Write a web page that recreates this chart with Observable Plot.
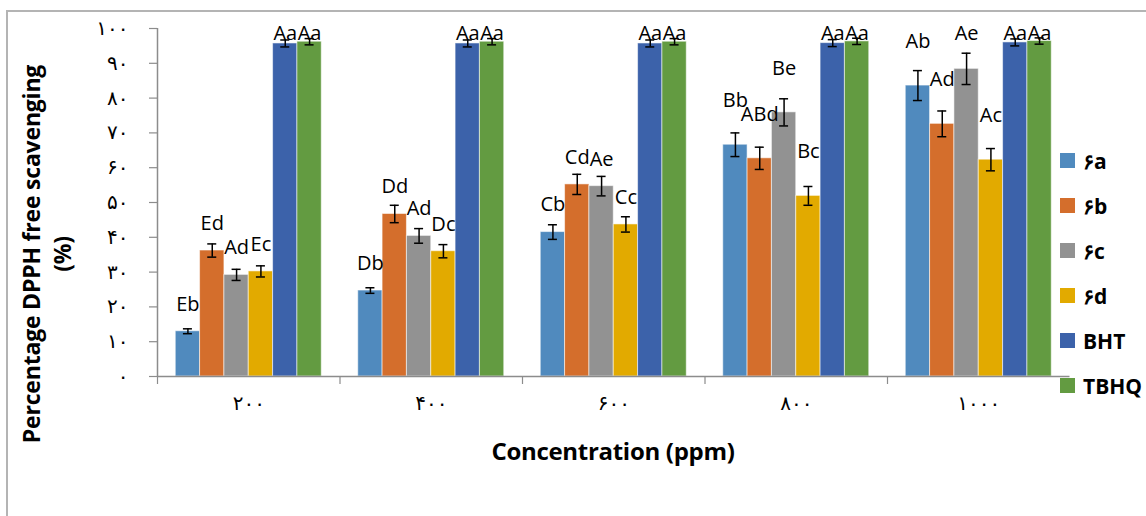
<!DOCTYPE html>
<html><head><meta charset="utf-8">
<script src="https://cdn.jsdelivr.net/npm/d3@7"></script>
<script src="https://cdn.jsdelivr.net/npm/@observablehq/plot@0.6"></script>
<style>
body{margin:0;background:#fff;}
#wrap{position:relative;width:1146px;height:516px;overflow:hidden;font-family:"Open Sans",sans-serif;color:#000;}
#border{position:absolute;left:6px;top:10px;width:1200px;height:600px;border-left:2px solid #b4b4b4;border-top:2px solid #b4b4b4;}
#chart{position:absolute;left:0;top:0;}
#ytitle{position:absolute;left:-177px;top:222px;width:450px;height:64px;line-height:31px;text-align:center;transform:rotate(-90deg);font-weight:bold;font-size:23px;white-space:nowrap;letter-spacing:-0.2px;}
#xtitle{position:absolute;left:157px;top:435px;width:912px;text-align:center;font-weight:bold;font-size:24px;line-height:32px;letter-spacing:-0.3px;}
#legend{position:absolute;left:1060px;top:138px;}
.li{height:45px;display:flex;align-items:center;font-weight:bold;font-size:21px;}
.sw{width:15px;height:15px;margin-right:8px;}
</style></head>
<body>
<div id="wrap">
  <div id="border"></div>
  <div id="chart"></div>
  <div id="ytitle">Percentage DPPH free scavenging<br>(%)</div>
  <div id="xtitle">Concentration (ppm)</div>
  <div id="legend"></div>
</div>
<script>
// ---- data ----
const concentrations = [200, 400, 600, 800, 1000];
const concLabels = ["۲۰۰", "۴۰۰", "۶۰۰", "۸۰۰", "۱۰۰۰"];
const seriesNames = ["۶a", "۶b", "۶c", "۶d", "BHT", "TBHQ"];
const yTicks = [0, 10, 20, 30, 40, 50, 60, 70, 80, 90, 100];
const yTickLabels = ["۰", "۱۰", "۲۰", "۳۰", "۴۰", "۵۰", "۶۰", "۷۰", "۸۰", "۹۰", "۱۰۰"];

const v6a  = [13.0, 24.7, 41.5, 66.6, 83.6];
const v6b  = [36.2, 46.7, 55.2, 62.7, 72.6];
const v6c  = [29.2, 40.4, 54.7, 75.9, 88.4];
const v6d  = [30.2, 36.0, 43.7, 51.9, 62.3];
const vBHT = [95.7, 95.7, 95.7, 95.8, 96.0];
const vTBHQ= [96.2, 96.2, 96.2, 96.3, 96.4];

const e6a  = [0.7, 0.8, 2.1, 3.4, 4.3];
const e6b  = [1.9, 2.5, 2.9, 3.2, 3.7];
const e6c  = [1.6, 2.1, 2.8, 3.9, 4.5];
const e6d  = [1.6, 1.9, 2.2, 2.7, 3.2];
const eBHT = [1.0, 1.0, 1.0, 1.0, 1.0];
const eTBHQ= [0.9, 0.9, 0.9, 0.9, 0.9];

const l6a  = ["Eb", "Db", "Cb", "Bb", "Ab"];
const l6b  = ["Ed", "Dd", "Cd", "ABd", "Ad"];
const l6c  = ["Ad", "Ad", "Ae", "Be", "Ae"];
const l6d  = ["Ec", "Dc", "Cc", "Bc", "Ac"];
const lBHT = ["Aa", "Aa", "Aa", "Aa", "Aa"];
const lTBHQ= ["Aa", "Aa", "Aa", "Aa", "Aa"];

const colors = ["#508abe", "#d46e2c", "#929292", "#e2aa00", "#3c62aa", "#639b41"];

// ---- layout/style ----
const W = 1146, H = 516, mL = 157, mR = 76.5, mT = 28, mB = 140;
const G = 7.5, PAD = 0.75;           // slots per group, outer padding (in bar widths)
const pxPerUnit = (H - mT - mB) / 100;
const liftPx = [27, 27, 27, 44, 44];  // label distance above bar top per group
const labelCap = 98.6;
const gray = "#8c8c8c";
const capHalf = 4.5 / ((W - mL - mR) / (concentrations.length * G));

const vals = [v6a, v6b, v6c, v6d, vBHT, vTBHQ];
const errs = [e6a, e6b, e6c, e6d, eBHT, eTBHQ];
const labs = [l6a, l6b, l6c, l6d, lBHT, lTBHQ];

const rows = [];
concentrations.forEach((c, gi) => seriesNames.forEach((s, si) => {
  const x1 = gi * G + PAD + si;
  rows.push({conc: c, gi, series: s, x1, x2: x1 + 1, xc: x1 + 0.5,
    value: vals[si][gi], err: errs[si][gi], label: labs[si][gi]});
}));
const bounds = concentrations.map((c, gi) => gi * G);
const centers = concentrations.map((c, gi) => gi * G + G / 2);

const plot = Plot.plot({
  width: W, height: H,
  marginLeft: mL, marginRight: mR, marginTop: mT, marginBottom: mB,
  style: {background: "transparent", overflow: "visible"},
  x: {domain: [0, concentrations.length * G], label: null},
  y: {domain: [0, 100], label: null},
  color: {domain: seriesNames, range: colors},
  marks: [
    Plot.ruleX([0], {y1: 0, y2: 100, stroke: gray, strokeWidth: 1.5}),
    Plot.axisY(yTicks, {tickSize: 8, tickPadding: 21, stroke: gray, strokeWidth: 1.2,
      tickFormat: d => yTickLabels[yTicks.indexOf(d)], fontSize: 20,
      fontFamily: "DejaVu Sans", fill: "#000", label: null}),
    Plot.rectY(rows, {x1: "x1", x2: "x2", y: "value", fill: "series",
      stroke: "#ffffff", strokeOpacity: 0.55, strokeWidth: 1}),
    Plot.ruleY([0], {stroke: gray, strokeWidth: 1.5}),
    Plot.axisX(bounds, {tickSize: 8, stroke: gray, strokeWidth: 1.2, tickFormat: () => "", label: null}),
    Plot.axisX(centers, {tickSize: 0, tickPadding: 19, label: null,
      tickFormat: d => concLabels[centers.indexOf(d)], fontSize: 20,
      fontFamily: "DejaVu Sans", fill: "#000"}),
    Plot.ruleX(rows, {x: "xc", y1: d => d.value - d.err, y2: d => d.value + d.err, stroke: "#000", strokeWidth: 1.5}),
    Plot.ruleY(rows, {x1: d => d.xc - capHalf, x2: d => d.xc + capHalf, y: d => d.value - d.err, stroke: "#000", strokeWidth: 1.5}),
    Plot.ruleY(rows, {x1: d => d.xc - capHalf, x2: d => d.xc + capHalf, y: d => d.value + d.err, stroke: "#000", strokeWidth: 1.5}),
    Plot.text(rows, {x: "xc", y: d => Math.min(d.value + liftPx[d.gi] / pxPerUnit, labelCap),
      text: "label", fontSize: 20, fontFamily: "Open Sans", fill: "#000"})
  ]
});
document.getElementById("chart").appendChild(plot);

const legend = document.getElementById("legend");
seriesNames.forEach((s, i) => {
  const item = document.createElement("div");
  item.className = "li";
  item.innerHTML = `<div class="sw" style="background:${colors[i]}"></div><span>${s}</span>`;
  legend.appendChild(item);
});
</script>
</body></html>
